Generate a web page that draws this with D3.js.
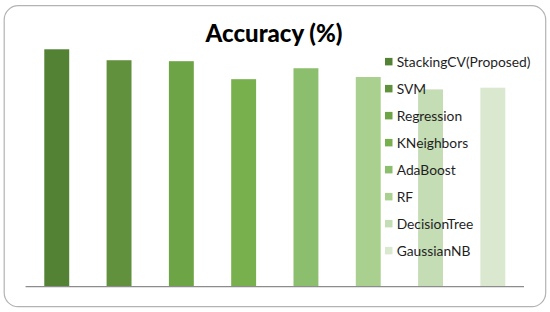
<!DOCTYPE html>
<meta charset="utf-8">
<style type="text/css">
    body { margin: 0; background: #fff; }
    .title { font-family: Lato, "Open Sans", sans-serif; font-weight: 900; fill: #000; }
    .legend text { font-family: Lato, "Open Sans", sans-serif; fill: #1f1f1f; }
    .frame { fill: #fff; stroke: #b3b3b3; stroke-width: 1.2; }
</style>
<body>
</body>
<script src="https://cdn.jsdelivr.net/npm/d3@7"></script>
<script>
    // data (no axis drawn, values estimated on a 0-100 scale)
    var models = ["StackingCV(Proposed)", "SVM", "Regression", "KNeighbors",
                  "AdaBoost", "RF", "DecisionTree", "GaussianNB"];
    var accuracy = [97.7, 93.2, 92.8, 85.4, 89.9, 86.3, 81.2, 81.9];
    var colors = ["#548235", "#62913e", "#6da446", "#77b04d",
                  "#8cbf6d", "#a9d08e", "#c5ddb5", "#d9e8cf"];

    var width = 550, height = 312;
    var margin = {top: 43.7, left: 25.6, right: 26, bottom: 25.3};

    var svg = d3.select("body").append("svg")
        .attr("width", width)
        .attr("height", height);

    // rounded frame round the whole chart
    svg.append("rect")
        .attr("class", "frame")
        .attr("x", 4.2).attr("y", 5.7)
        .attr("width", 541.5).attr("height", 301)
        .attr("rx", 14).attr("ry", 14);

    var xScale = d3.scaleBand()
        .domain(models)
        .range([margin.left, width - margin.right])
        .paddingInner(0.6)
        .paddingOuter(0.3);

    var yScale = d3.scaleLinear()
        .domain([0, 100])
        .range([height - margin.bottom, margin.top]);

    svg.selectAll(".bar")
        .data(models)
        .enter().append("rect")
        .attr("class", "bar")
        .attr("x", function(d) { return xScale(d); })
        .attr("y", function(d, i) { return yScale(accuracy[i]); })
        .attr("width", xScale.bandwidth())
        .attr("height", function(d, i) { return yScale(0) - yScale(accuracy[i]); })
        .attr("fill", function(d, i) { return colors[i]; });

    // baseline
    svg.append("line")
        .attr("x1", margin.left).attr("x2", width - margin.right)
        .attr("y1", yScale(0)).attr("y2", yScale(0))
        .attr("stroke", "#8c8c8c")
        .attr("stroke-width", 1.3);

    svg.append("text")
        .attr("class", "title")
        .attr("x", 274)
        .attr("y", 42)
        .attr("text-anchor", "middle")
        .style("font-size", "24px")
        .text("Accuracy (%)");

    // legend, drawn over the bars like the original
    var legend = svg.append("g").attr("class", "legend");
    var row = d3.scalePoint().domain(models).range([61.7, 250.7]);

    legend.selectAll("rect")
        .data(models)
        .enter().append("rect")
        .attr("x", 385)
        .attr("y", function(d) { return row(d) - 3.8; })
        .attr("width", 7.5).attr("height", 7.5)
        .attr("fill", function(d, i) { return colors[i]; });

    legend.selectAll("text")
        .data(models)
        .enter().append("text")
        .attr("x", 396.7)
        .attr("y", function(d) { return row(d); })
        .attr("dy", "0.36em")
        .style("font-size", "13.8px")
        .text(function(d) { return d; });
</script>
